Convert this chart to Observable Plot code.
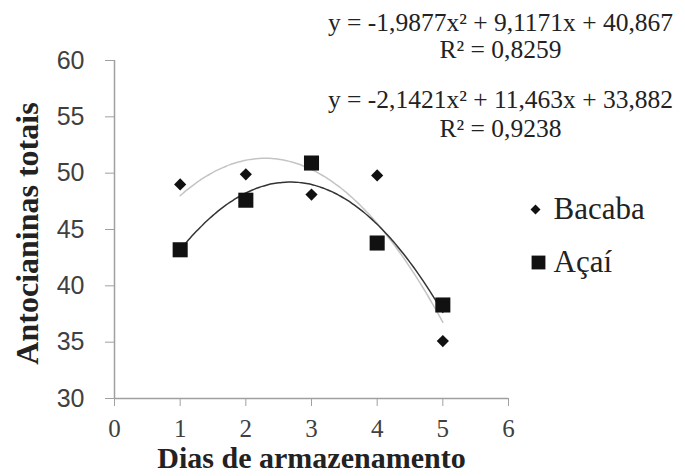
<!DOCTYPE html>
<html><head><meta charset="utf-8">
<script src="https://cdn.jsdelivr.net/npm/d3@7"></script>
<script src="https://cdn.jsdelivr.net/npm/@observablehq/plot@0.6"></script>
<style>
body{margin:0;background:#fff;}
#chart svg{display:block;}
</style>
</head><body><div id="chart"></div>
<script>
const days = [1, 2, 3, 4, 5];
const bacaba = [49.0, 49.9, 48.1, 49.8, 35.1];
const acai = [43.2, 47.6, 50.9, 43.8, 38.3];
const xTicks = [0, 1, 2, 3, 4, 5, 6];
const yTicks = [30, 35, 40, 45, 50, 55, 60];
// trendline coefficients as printed on the chart [a, b, c] for y = a x² + b x + c
const trendUpper = [-1.9877, 9.1171, 40.867];
const trendLower = [-2.1421, 11.463, 33.882];
const eqUpper = ["y = -1,9877x² + 9,1171x + 40,867", "R² = 0,8259"];
const eqLower = ["y = -2,1421x² + 11,463x + 33,882", "R² = 0,9238"];
const seriesNames = ["Bacaba", "Açaí"];

const bacabaPts = days.map((d, i) => ({x: d, y: bacaba[i]}));
const acaiPts = days.map((d, i) => ({x: d, y: acai[i]}));
const xs = d3.range(1, 5.001, 0.05);
const curve = (c) => xs.map(x => ({x, y: c[0]*x*x + c[1]*x + c[2]}));

const serif = "'Liberation Serif', 'Times New Roman', serif";
const sans = "'Liberation Sans', Arial, sans-serif";
const txt = (s, dy) => Plot.text([s], {frameAnchor: "top-right", dx: -8, dy, textAnchor: "middle", lineAnchor: "middle", fontSize: 25.5, fontFamily: serif, fill: "#222"});
const plot = Plot.plot({
  width: 685, height: 476,
  marginLeft: 114, marginRight: 177, marginTop: 60, marginBottom: 78,
  style: {fontFamily: serif, background: "#fff", overflow: "visible"},
  x: {domain: [0, 6], axis: null},
  y: {domain: [30, 60], axis: null},
  marks: [
    Plot.ruleX([0], {stroke: "#a0a0a0", strokeWidth: 1.5}),
    Plot.ruleY([30], {stroke: "#a0a0a0", strokeWidth: 1.5}),
    Plot.axisY(yTicks, {tickSize: 9, tickPadding: 21, stroke: "#a0a0a0", fill: "#404040", fontSize: 25, fontFamily: sans, label: null}),
    Plot.axisX(xTicks, {tickSize: 8, tickPadding: 13, stroke: "#a0a0a0", fill: "#404040", fontSize: 25, fontFamily: serif, label: null}),
    Plot.line(curve(trendUpper), {x: "x", y: "y", stroke: "#c4c4c4", strokeWidth: 1.5, curve: "basis"}),
    Plot.line(curve(trendLower), {x: "x", y: "y", stroke: "#333", strokeWidth: 1.5, curve: "basis"}),
    Plot.dot(bacabaPts, {x: "x", y: "y", symbol: "diamond2", r: 5.5, fill: "#111", stroke: "none"}),
    Plot.dot(acaiPts, {x: "x", y: "y", symbol: "square", r: 8.5, fill: "#111", stroke: "none"}),
    Plot.text(["Antocianinas totais"], {frameAnchor: "left", dx: -87, dy: 4, rotate: -90, textAnchor: "middle", lineAnchor: "middle", fontSize: 32, fontWeight: "bold", fontFamily: serif, fill: "#222"}),
    Plot.text(["Dias de armazenamento"], {frameAnchor: "bottom", dx: 0, dy: 60, textAnchor: "middle", lineAnchor: "middle", fontSize: 30, fontWeight: "bold", fontFamily: serif, fill: "#222"}),
    txt(eqUpper[0], -38),
    txt(eqUpper[1], -11),
    txt(eqLower[0], 39),
    txt(eqLower[1], 68),
    Plot.dot([0], {frameAnchor: "top-right", dx: 27, dy: 149, symbol: "diamond2", r: 4.5, fill: "#111", stroke: "none"}),
    Plot.dot([0], {frameAnchor: "top-right", dx: 30, dy: 202, symbol: "square", r: 7.8, fill: "#111", stroke: "none"}),
    Plot.text([seriesNames[0]], {frameAnchor: "top-right", dx: 45, dy: 149, textAnchor: "start", lineAnchor: "middle", fontSize: 31, fontFamily: serif, fill: "#222"}),
    Plot.text([seriesNames[1]], {frameAnchor: "top-right", dx: 45, dy: 202, textAnchor: "start", lineAnchor: "middle", fontSize: 31, fontFamily: serif, fill: "#222"})
  ]
});
document.getElementById("chart").append(plot);
</script>
</body></html>
